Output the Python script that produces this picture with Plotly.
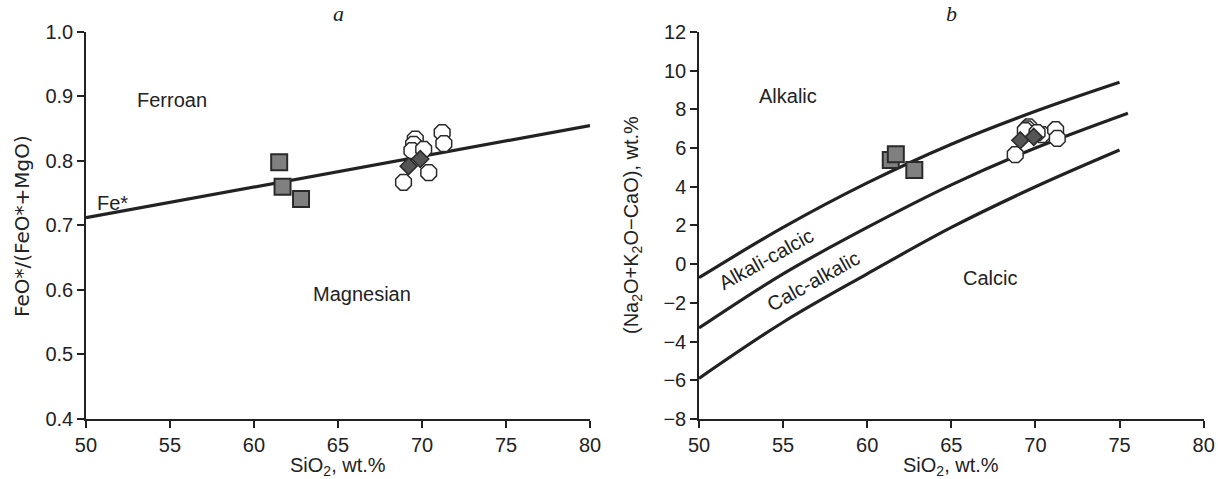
import plotly.graph_objects as go

# ---------------- data: panel a (Fe* diagram) ----------------
fe_line_x = [50, 80]
fe_line_y = [0.712, 0.855]

a_sq_x = [61.5, 61.7, 62.8]
a_sq_y = [0.798, 0.760, 0.741]
a_dia_x = [69.2, 69.9]
a_dia_y = [0.792, 0.803]
a_circ_x = [68.9, 70.4, 71.2, 71.3, 69.6, 69.5, 69.4, 70.1]
a_circ_y = [0.767, 0.782, 0.844, 0.827, 0.834, 0.826, 0.816, 0.818]

# ---------------- data: panel b (MALI diagram) ----------------
b_line1_x = [50, 55, 60, 65, 70, 75]
b_line1_y = [-0.7, 1.9, 4.2, 6.2, 7.9, 9.4]
b_line2_x = [50, 55, 60, 65, 70, 75.5]
b_line2_y = [-3.3, -0.5, 1.9, 4.1, 6.0, 7.8]
b_line3_x = [50, 55, 60, 65, 70, 75]
b_line3_y = [-5.9, -3.0, -0.5, 1.9, 4.0, 5.9]

b_sq_x = [61.4, 61.7, 62.8]
b_sq_y = [5.38, 5.68, 4.87]
b_dia_x = [69.1, 69.9]
b_dia_y = [6.40, 6.58]
b_circ_x = [68.8, 70.4, 71.2, 71.3, 69.6, 69.5, 69.4, 70.1]
b_circ_y = [5.66, 6.70, 6.95, 6.50, 7.10, 7.00, 6.90, 6.80]

x_ticks = [50, 55, 60, 65, 70, 75, 80]
a_y_ticks = [0.4, 0.5, 0.6, 0.7, 0.8, 0.9, 1.0]
b_y_ticks = [-8, -6, -4, -2, 0, 2, 4, 6, 8, 10, 12]

FONT = "Liberation Sans, Arial, sans-serif"
INK = "#222222"
LINE_W = 3.2
FS = 20

fig = go.Figure()

# panel a boundary line
fig.add_trace(go.Scatter(x=fe_line_x, y=fe_line_y, mode="lines",
                         line=dict(color=INK, width=LINE_W), xaxis="x", yaxis="y",
                         showlegend=False, hoverinfo="skip"))
# panel b boundary lines
for lx, ly in [(b_line1_x, b_line1_y), (b_line2_x, b_line2_y), (b_line3_x, b_line3_y)]:
    fig.add_trace(go.Scatter(x=lx, y=ly, mode="lines", line_shape="spline",
                             line=dict(color=INK, width=LINE_W), xaxis="x2", yaxis="y2",
                             showlegend=False, hoverinfo="skip"))

for (cx, cy, dx, dy, sx, sy, xa, ya) in [
        (a_circ_x, a_circ_y, a_dia_x, a_dia_y, a_sq_x, a_sq_y, "x", "y"),
        (b_circ_x, b_circ_y, b_dia_x, b_dia_y, b_sq_x, b_sq_y, "x2", "y2")]:
    fig.add_trace(go.Scatter(x=cx, y=cy, mode="markers", xaxis=xa, yaxis=ya,
                             marker=dict(symbol="octagon", size=17, color="white",
                                         line=dict(color="#2a2a2a", width=1.5)),
                             showlegend=False))
    fig.add_trace(go.Scatter(x=dx, y=dy, mode="markers", xaxis=xa, yaxis=ya,
                             marker=dict(symbol="diamond", size=13, color="#555555",
                                         line=dict(color="#2a2a2a", width=1.5)),
                             showlegend=False))
    fig.add_trace(go.Scatter(x=sx, y=sy, mode="markers", xaxis=xa, yaxis=ya,
                             marker=dict(symbol="square", size=16, color="#808080",
                                         line=dict(color="#2a2a2a", width=2)),
                             showlegend=False))

axis_common = dict(showgrid=False, zeroline=False, showline=True, linecolor=INK,
                   linewidth=1.5, ticks="outside", ticklen=7, tickwidth=1.5,
                   tickcolor=INK, tickfont=dict(family=FONT, size=FS, color=INK),
                   automargin=False, mirror=False, ticklabeloverflow="allow")

YD = [0.1253, 0.9332]
fig.update_layout(
    width=1218, height=479, margin=dict(l=0, r=0, t=0, b=0),
    paper_bgcolor="white", plot_bgcolor="white",
    xaxis=dict(domain=[0.0706, 0.4844], range=[50, 80], tickvals=x_ticks, anchor="y", **axis_common),
    yaxis=dict(domain=YD, range=[0.4, 1.0], tickvals=a_y_ticks, tickformat=".1f", anchor="x", **axis_common),
    xaxis2=dict(domain=[0.5739, 0.9882], range=[50, 80], tickvals=x_ticks, anchor="y2", **axis_common),
    yaxis2=dict(domain=YD, range=[-8, 12], tickvals=b_y_ticks,
                ticktext=[("\u2212" + str(-v)) if v < 0 else str(v) for v in b_y_ticks],
                anchor="x2", **axis_common),
)

def ann(text, x, y, xref="paper", yref="paper", size=FS, angle=0, family=FONT, **kw):
    fig.add_annotation(text=text, x=x, y=y, xref=xref, yref=yref, showarrow=False,
                       textangle=angle, font=dict(family=family, size=size, color=INK),
                       xanchor="center", yanchor="middle", **kw)

W, H = 1218, 479
def px(xp, yp):
    return xp / W, 1 - yp / H

# panel titles
ann("<i>a</i>", *px(338, 13), size=22, family="Liberation Serif, Times New Roman, serif")
ann("<i>b</i>", *px(951, 13), size=22, family="Liberation Serif, Times New Roman, serif")

# axis titles
ann("SiO<sub>2</sub>, wt.%", *px(338, 466))
ann("SiO<sub>2</sub>, wt.%", *px(951, 466))
ann("FeO*/(FeO*+MgO)", *px(22, 226), angle=-90, family="DejaVu Sans, Liberation Sans, sans-serif", size=20)
ann("(Na<sub>2</sub>O+K<sub>2</sub>O\u2212CaO), wt.%", *px(632, 225), angle=-90)

# region labels panel a
ann("Ferroan", 55.1, 0.895, xref="x", yref="y")
ann("Magnesian", 66.4, 0.593, xref="x", yref="y")
ann("Fe*", 51.6, 0.735, xref="x", yref="y")

# region labels panel b
ann("Alkalic", 55.3, 8.7, xref="x2", yref="y2")
ann("Alkali-calcic", 54.0, 0.25, xref="x2", yref="y2", angle=-29)
ann("Calc-alkalic", 56.8, -0.85, xref="x2", yref="y2", angle=-29)
ann("Calcic", 67.3, -0.7, xref="x2", yref="y2")

fig.write_html("out.html")
